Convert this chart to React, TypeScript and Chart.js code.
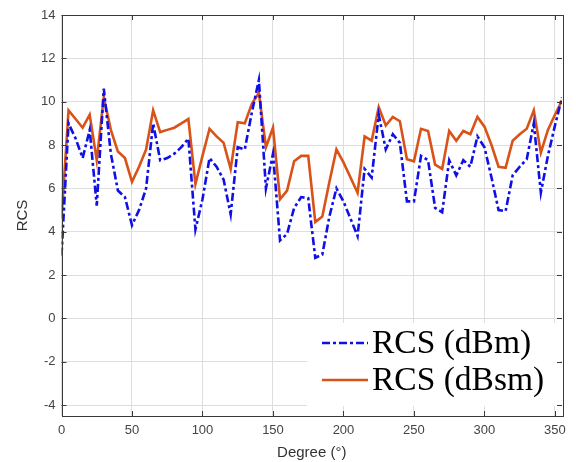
import React, { useEffect, useRef } from "react";
import { Chart, registerables } from "chart.js";

Chart.register(...registerables);

const degrees = [
  0, 5, 10, 15, 20, 25, 30, 35, 40, 45, 50, 55, 60, 65, 70, 75, 80, 85,
  90, 95, 100, 105, 110, 115, 120, 125, 130, 135, 140, 145, 150, 155, 160, 165,
  170, 175, 180, 185, 190, 195, 200, 205, 210, 215, 220, 225, 230, 235, 240, 245,
  250, 255, 260, 265, 270, 275, 280, 285, 290, 295, 300, 305, 310, 315, 320, 325,
  330, 335, 340, 345, 350, 355,
];

const rcsDbm = [
  2.9, 9.0, 8.3, 7.4, 8.7, 5.2, 10.6, 7.6, 5.9, 5.6, 4.3, 5.0, 6.0, 9.0, 7.3, 7.4, 7.6, 7.9,
  8.3, 4.1, 5.5, 7.4, 7.0, 6.4, 4.8, 7.9, 7.8, 9.5, 11.0, 6.0, 7.6, 3.6, 3.9, 5.1,
  5.6, 5.55, 2.8, 2.95, 4.7, 6.0, 5.4, 4.6, 3.8, 6.9, 6.5, 9.4, 7.8, 8.5, 8.1, 5.4,
  5.4, 7.5, 7.3, 5.1, 4.9, 7.3, 6.6, 7.3, 7.0, 8.4, 7.9, 6.5, 5.0, 4.95, 6.6, 7.0,
  7.35, 9.0, 5.8, 7.5, 8.9, 10.2,
];

const rcsDbsm = [
  4.6, 9.6, 9.2, 8.8, 9.4, 7.3, 10.2, 8.7, 7.7, 7.4, 6.3, 7.0, 7.8, 9.6, 8.6, 8.7, 8.8, 9.0,
  9.2, 6.2, 7.5, 8.75, 8.4, 8.1, 6.9, 9.05, 9.0, 9.9, 10.4, 7.9, 8.8, 5.5, 5.9, 7.25,
  7.5, 7.5, 4.45, 4.7, 6.3, 7.8, 7.2, 6.5, 5.8, 8.4, 8.2, 9.75, 8.9, 9.3, 9.1, 7.35,
  7.25, 8.75, 8.65, 7.1, 6.9, 8.65, 8.2, 8.65, 8.5, 9.3, 8.85, 8.0, 7.0, 6.95, 8.2, 8.5,
  8.75, 9.6, 7.65, 8.7, 9.4, 10.05,
];

const xTicks = [0, 50, 100, 150, 200, 250, 300, 350];
const yTicks = [-4, -2, 0, 2, 4, 6, 8, 10, 12, 14];

const seriesLabels = ["RCS (dBm)", "RCS (dBsm)"];

const AXIS_COLOR = "#3a3a3a";
const GRID_COLOR = "#dedede";
const TICK_COLOR = "#444444";

const boxPlugin = {
  id: "matlabBox",
  afterDatasetsDraw(chart: any) {
    const { ctx, chartArea } = chart;
    const { right, bottom } = chartArea;
    ctx.save();
    const bw = 253;
    const bh = 83;
    const bx = right - 2 - bw;
    const by = bottom - 10 - bh;
    ctx.fillStyle = "#ffffff";
    ctx.fillRect(bx, by, bw, bh);
    const rows = [by + 20, by + 57];
    chart.data.datasets.forEach((ds: any, i: number) => {
      const y = rows[i];
      ctx.beginPath();
      ctx.strokeStyle = ds.borderColor;
      ctx.lineWidth = ds.borderWidth;
      ctx.setLineDash(ds.borderDash || []);
      ctx.moveTo(bx + 15, y);
      ctx.lineTo(bx + 61, y);
      ctx.stroke();
      ctx.setLineDash([]);
      ctx.fillStyle = "#000000";
      ctx.font = '33.5px "Liberation Serif", "Times New Roman", serif';
      ctx.textBaseline = "middle";
      ctx.textAlign = "left";
      ctx.fillText(ds.label, bx + 65, y + 1);
    });
    ctx.restore();
  },
  afterDraw(chart: any) {
    const { ctx, chartArea, scales } = chart;
    const { left, right, top, bottom } = chartArea;
    ctx.save();
    ctx.strokeStyle = AXIS_COLOR;
    ctx.lineWidth = 1;
    ctx.beginPath();
    const tl = 5;
    scales.x.ticks.forEach((t: any) => {
      const px = Math.round(scales.x.getPixelForValue(t.value)) + 0.5;
      ctx.moveTo(px, bottom);
      ctx.lineTo(px, bottom - tl);
      ctx.moveTo(px, top);
      ctx.lineTo(px, top + tl);
    });
    scales.y.ticks.forEach((t: any) => {
      const py = Math.round(scales.y.getPixelForValue(t.value)) + 0.5;
      ctx.moveTo(left, py);
      ctx.lineTo(left + tl, py);
      ctx.moveTo(right, py);
      ctx.lineTo(right - tl, py);
    });
    ctx.stroke();
    ctx.strokeRect(Math.round(left) + 0.5, Math.round(top) + 0.5, Math.round(right - left), Math.round(bottom - top));
    ctx.restore();
  },
};

export default function App() {
  const canvasRef = useRef<HTMLCanvasElement | null>(null);

  useEffect(() => {
    if (!canvasRef.current) return;
    const chart = new Chart(canvasRef.current, {
      type: "line",
      data: {
        datasets: [
          {
            label: seriesLabels[0],
            data: degrees.map((d, i) => ({ x: d, y: rcsDbm[i] })),
            borderColor: "#1010e6",
            borderWidth: 2.6,
            borderDash: [8, 3, 3, 3],
            pointRadius: 0,
            tension: 0,
            fill: false,
          },
          {
            label: seriesLabels[1],
            data: degrees.map((d, i) => ({ x: d, y: rcsDbsm[i] })),
            borderColor: "#d95319",
            borderWidth: 2.6,
            pointRadius: 0,
            tension: 0,
            fill: false,
          },
        ],
      },
      options: {
        responsive: false,
        animation: false,
        devicePixelRatio: 1,
        layout: { padding: { top: 15, right: 14, left: 0, bottom: 0 } },
        plugins: {
          legend: { display: false },
          tooltip: { enabled: false },
        },
        scales: {
          x: {
            type: "linear",
            min: 0,
            max: 355,
            afterBuildTicks: (scale: any) => {
              scale.ticks = xTicks.map((v) => ({ value: v }));
            },
            afterFit: (scale: any) => {
              scale.height = 46;
            },
            grid: { color: GRID_COLOR, drawTicks: false },
            border: { display: false },
            ticks: {
              padding: 7,
              color: TICK_COLOR,
              font: { family: '"Liberation Sans", Arial, sans-serif', size: 13 },
              maxRotation: 0,
            },
            title: {
              display: true,
              text: "Degree (°)",
              color: "#333333",
              font: { family: '"Liberation Sans", Arial, sans-serif', size: 15 },
              padding: { top: 0, bottom: 0 },
            },
          },
          y: {
            type: "linear",
            min: -4.5,
            max: 14,
            afterBuildTicks: (scale: any) => {
              scale.ticks = yTicks.map((v) => ({ value: v }));
            },
            afterFit: (scale: any) => {
              scale.width = 61.5;
            },
            grid: { color: GRID_COLOR, drawTicks: false },
            border: { display: false },
            ticks: {
              padding: 6,
              color: TICK_COLOR,
              font: { family: '"Liberation Sans", Arial, sans-serif', size: 13 },
            },
            title: {
              display: true,
              text: "RCS",
              color: "#333333",
              font: { family: '"Liberation Sans", Arial, sans-serif', size: 15 },
              padding: { top: 14, bottom: 0 },
            },
          },
        },
      },
      plugins: [boxPlugin],
    });
    return () => chart.destroy();
  }, []);

  return (
    <div style={{ position: "absolute", left: 0, top: 0, width: 576, height: 462, background: "#ffffff" }}>
      <canvas ref={canvasRef} width={576} height={462} />
    </div>
  );
}
